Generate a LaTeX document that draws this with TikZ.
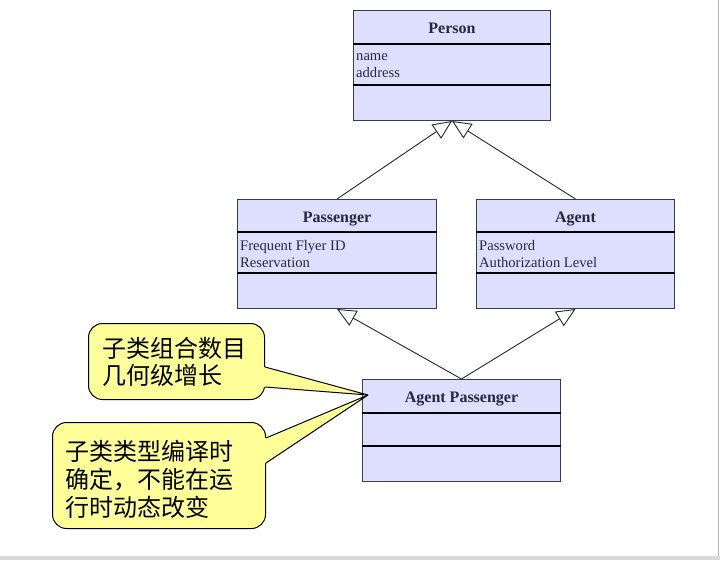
\documentclass[tikz,border=0pt]{standalone}
\usepackage{fontspec}
\setmainfont{Liberation Serif}
\newfontfamily\cjk{Noto Sans CJK SC}
\usetikzlibrary{arrows.meta}

\definecolor{classfill}{RGB}{222,222,255}
\definecolor{classline}{RGB}{60,60,70}
\definecolor{classtext}{RGB}{40,40,60}
\definecolor{notefill}{RGB}{255,255,153}

\begin{document}
\begin{tikzpicture}[x=1pt,y=-1pt,
  classbox/.style={draw=classline, line width=1pt, fill=classfill, inner sep=0pt, anchor=north west},
  divider/.style={line width=1.6pt, draw=black},
  title/.style={font=\fontsize{16}{18}\selectfont\bfseries, text=classtext, inner sep=0pt, anchor=base},
  attr/.style={font=\fontsize{14.6}{17}\selectfont, text=classtext, anchor=base west, inner sep=0pt},
  inherit/.style={draw=black!85, line width=0.9pt, -{Triangle[open, length=19pt, width=17pt, fill=white]}},
  note/.style={draw=black, line width=1pt, fill=notefill, rounded corners=14pt, anchor=north west, inner sep=0pt},
  notetext/.style={font=\cjk\fontsize{24}{28}\selectfont, anchor=base west, inner sep=0pt},
  pointer/.style={draw=black, line width=1pt, line join=miter}]

\useasboundingbox (0,0) rectangle (720,560);
\fill[white] (0,0) rectangle (720,560);
% window frame edges
\fill[black!15] (0,556) rectangle (720,560);
\draw[black!30, line width=1pt] (718,0) -- (718,556);

% ---- Person ----
\node[classbox, minimum width=197pt, minimum height=110pt] (person) at (353,10) {};
\draw[divider] ([yshift=-34pt]person.north west) -- ([yshift=-34pt]person.north east);
\draw[divider] ([yshift=-75pt]person.north west) -- ([yshift=-75pt]person.north east);
\node[title] (persontitle) at ([yshift=-23pt]person.north) {Person};
\node[attr] (personattrA) at (356,60) {name};
\node[attr] (personattrB) at (356,77) {address};

% ---- Passenger ----
\node[classbox, minimum width=199pt, minimum height=109pt] (passenger) at (237,199) {};
\draw[divider] ([yshift=-33pt]passenger.north west) -- ([yshift=-33pt]passenger.north east);
\draw[divider] ([yshift=-74pt]passenger.north west) -- ([yshift=-74pt]passenger.north east);
\node[title] (passengertitle) at ([yshift=-23pt]passenger.north) {Passenger};
\node[attr] (passengerattrA) at (240,250) {Frequent Flyer ID};
\node[attr] (passengerattrB) at (240,267) {Reservation};

% ---- Agent ----
\node[classbox, minimum width=198pt, minimum height=109pt] (agent) at (476,199) {};
\draw[divider] ([yshift=-33pt]agent.north west) -- ([yshift=-33pt]agent.north east);
\draw[divider] ([yshift=-74pt]agent.north west) -- ([yshift=-74pt]agent.north east);
\node[title] (agenttitle) at ([yshift=-23pt]agent.north) {Agent};
\node[attr] (agentattrA) at (479,250) {Password};
\node[attr] (agentattrB) at (479,267) {Authorization Level};

% ---- Agent Passenger ----
\node[classbox, minimum width=198pt, minimum height=102pt] (ap) at (362,379) {};
\draw[divider] ([yshift=-34pt]ap.north west) -- ([yshift=-34pt]ap.north east);
\draw[divider] ([yshift=-67pt]ap.north west) -- ([yshift=-67pt]ap.north east);
\node[title] (aptitle) at ([yshift=-23pt]ap.north) {Agent Passenger};

% ---- generalisation arrows ----
\draw[inherit] (passenger.north) -- (person.south);
\draw[inherit] (agent.north) -- (person.south);
\draw[inherit] (ap.north) -- (passenger.south);
\draw[inherit] (ap.north) -- (agent.south);

% ---- notes ----
\coordinate (tip) at (368,395);

\node[note, minimum width=176pt, minimum height=76pt] (noteA) at (88,323) {};
\fill[notefill] ([xshift=-6pt,yshift=-44pt]noteA.north east) -- ([yshift=-44pt]noteA.north east)
  -- (tip) -- ([yshift=-64pt]noteA.north east) -- ([xshift=-6pt,yshift=-64pt]noteA.north east) -- cycle;
\draw[pointer] ([yshift=-44pt]noteA.north east) -- (tip) -- ([yshift=-64pt]noteA.north east);
\node[notetext] (noteAline1) at (102,357) {子类组合数目};
\node[notetext] (noteAline2) at (102,384) {几何级增长};

\node[note, minimum width=213pt, minimum height=106pt] (noteB) at (52,422) {};
\fill[notefill] ([xshift=-6pt,yshift=-16pt]noteB.north east) -- ([yshift=-16pt]noteB.north east)
  -- (tip) -- ([yshift=-41pt]noteB.north east) -- ([xshift=-6pt,yshift=-41pt]noteB.north east) -- cycle;
\draw[pointer] ([yshift=-16pt]noteB.north east) -- (tip) -- ([yshift=-41pt]noteB.north east);
\node[notetext] (noteBline1) at (65,460) {子类类型编译时};
\node[notetext] (noteBline2) at (65,488) {确定，不能在运};
\node[notetext] (noteBline3) at (65,516) {行时动态改变};

\end{tikzpicture}
\end{document}
